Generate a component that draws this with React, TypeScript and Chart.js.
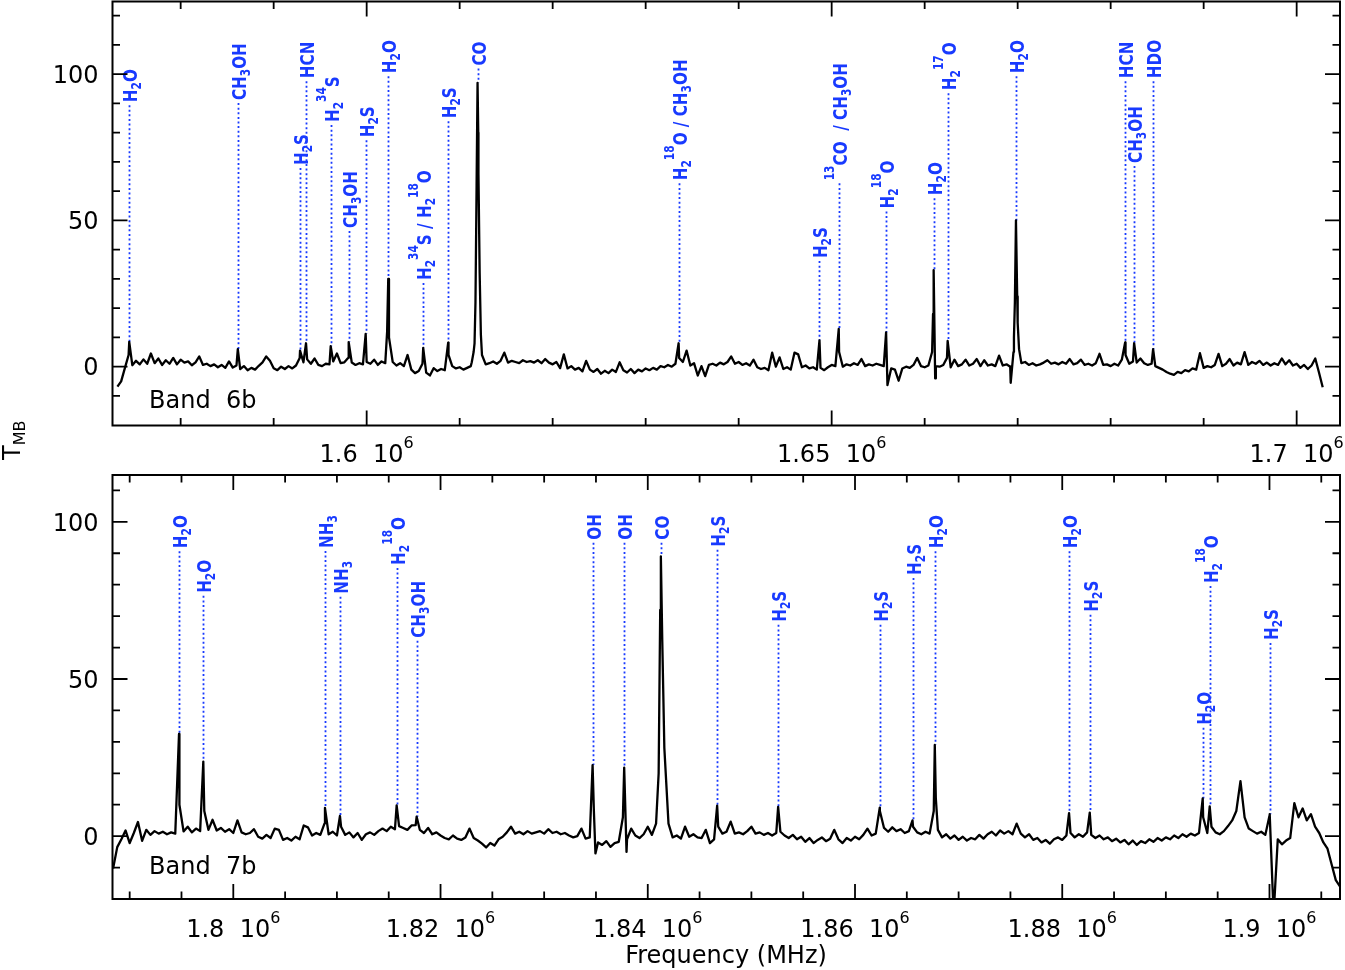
import React, { useEffect, useRef } from "react";
import { Chart, registerables } from "chart.js";
Chart.register(...registerables);

// ---------------- Band 6b (top panel) ----------------
const band6Start = 1573200; // MHz, first channel
const band6Step = 400; // MHz per channel
const band6T = [
  -6.8, -5, -0.5, 4, 0.5, 2, 0.8, 2.5, 1, 4.5,
  1.2, 2.8, 0.6, 2.2, 1.0, 3.0, 0.8, 2.4, 1.4, 1.8,
  0.5, 1.5, 3.5, 0.6, 1.0, 0.2, 0.8, -0.2, 0.6, -0.4,
  1.8, -0.3, 0.4, -0.8, 0.2, -1.2, -0.4, -1.0, 0.3, 1.5,
  3.5, 2.0, -0.5, -1.2, 0.0, -0.8, 0.2, -0.6, 0.4, 3,
  1.5, 2.5, 1.0, 2.8, 0.6, 0.2, 1.0, 0.8, 1.8, 4.5,
  1.2, 1.5, 3, 1.4, 0.6, 1.2, 0.8, 1.6, 1.0, 2.4,
  0.6, 1.8, 1.2, 10, 1.6, 0.4, 1.2, 0.2, 4.0, -1.0,
  -2.2, -1.5, 1, -2.0, -3.0, -0.5, -1.5, -0.8, -1.2, 4,
  0.2, -0.6, -0.2, -1.0, -0.4, 0.2, 8, 80, 4, 0.8,
  1.2, 1.8, 1.0, 2.0, 4.8, 1.4, 2.0, 1.6, 1.2, 2.2,
  1.6, 1.9, 1.4, 2.2, 1.2, 2.6, 1.4, 0.8, 1.6, -0.5,
  4.2, -0.6, 0.2, -1.0, -0.4, -1.6, 2.0, -1.0, -1.8, -0.8,
  -2.4, -1.4, -2.2, -1.0, -1.8, 1.5, -1.2, -2.0, -0.8, -2.2,
  -1.0, -1.6, -0.6, -1.2, -0.4, -1.0, 0.2, -0.2, 0.6, 0.0,
  1.0, 3, 1.6, 5.5, 0.4, 1.2, -3.0, 0.2, -3.2, 0.6,
  1.0, 0.4, 1.4, 0.8, 1.6, 3.5, 1.0, 1.6, 0.6, 1.2,
  0.4, 2.4, -0.2, -0.8, -0.4, -1.2, 4.8, 0.0, 3.2, -0.8,
  -0.2, -1.0, 4.8, 4.2, -0.2, 0.4, -0.6, -0.2, -1.0, -0.4,
  -1.2, -0.2, 0.6, 0.2, 5, 0.0, 0.8, 0.4, 1.2, 0.6,
  2.6, 0.2, 0.8, 0.4, 1.0, 0.6, 0.2, -6.3, -0.6, -1.0,
  -4.8, -0.6, 0.0, -0.4, 0.6, 3.0, 0.2, -0.2, 0.4, 5,
  0.2, 0.0, 0.6, 3, -0.2, 2.4, 0.2, 0.8, 2.4, 0.4,
  1.0, 2.6, 0.2, 2.2, 0.4, 0.8, 0.2, 3.8, 0.4, 0.8,
  0.0, 10, 15, 1.2, 1.6, 0.6, 1.2, 0.4, 0.8, 1.4,
  2.2, 1.0, 1.4, 0.8, 1.6, 1.0, 2.6, 0.8, 1.2, 2.4,
  0.6, 1.0, 0.4, 1.2, 4.4, 0.6, 0.8, 0.2, 1.0, 0.4,
  2.4, 4, 1.0, 1.8, 1.4, 2.8, 1.2, 0.6, 1.0, 0.2,
  -0.4, -1.0, -1.8, -2.4, -2.8, -1.8, -2.2, -1.2, -1.6, -0.6,
  -1.0, 4.6, -0.4, 0.2, -0.2, 0.6, 4.4, 0.2, 1.0, 2.6,
  0.4, 1.4, 0.8, 5.0, 0.6, 1.6, 1.0, 2.0, 0.6, 1.4,
  0.4, 1.2, 0.6, 2.8, 0.8, 2.2, 0.4, 1.0, -0.4, 0.6,
  -0.8, 0.4, 2.8, -2.0, -7.0,
];
// identified lines: rest frequency (MHz), peak T_MB, label base level, label
const band6LineFreq = [
  1574470, 1586144, 1592836, 1593480, 1596133, 1598067, 1599893, 1602320, 1606079, 1608765,
  1611923, 1633544, 1648689, 1650762, 1655853, 1660966, 1662470, 1669817, 1681557, 1682523, 1684565,
];
const band6LinePeak = [8.5, 6, 5.5, 8, 7, 8.4, 11.2, 30, 6.4, 8.2, 97, 8, 9, 12.9, 11.7, 33, 8.8, 50, 8.3, 8, 6];
const band6LabelLevel = [90.4, 91.1, 68.9, 98.6, 83.6, 47.4, 78.4, 100.3, 29.6, 84.9, 102.9, 63.7, 37.1, 63.7, 54.1, 58.6, 94.5, 100.3, 98.6, 69.6, 98.6];
const band6LabelText = [
  "H_2O", "CH_3OH", "H_2S", "HCN", "H_2^{34}S", "CH_3OH", "H_2S", "H_2O", "H_2^{34}S / H_2^{18}O", "H_2S",
  "CO", "H_2^{18}O / CH_3OH", "H_2S", "^{13}CO  / CH_3OH", "H_2^{18}O", "H_2O", "H_2^{17}O", "H_2O", "HCN", "CH_3OH", "HDO",
];
// extra channels on the wings of the strong lines
const band6ExtraFreq = [1602200, 1611300, 1611500, 1611700, 1611820, 1612020, 1612150, 1612280, 1660900, 1661050, 1661130, 1669250, 1669550, 1669700, 1669950, 1670150];
const band6ExtraT = [12, 1.5, 5, 22, 62, 66, 32, 11, 18, 14, -4, -5.5, 5, 22, 24, 6];

const band6XRange = [1572670, 1704660];
const band6YRange = [-20.1, 124.8];
const band6MajorX = [1600000, 1650000, 1700000];
const band6MinorX = [1580000, 1590000, 1610000, 1620000, 1630000, 1640000, 1660000, 1670000, 1680000, 1690000];
const band6XTickText = ["1.6  10^6", "1.65  10^6", "1.7  10^6"];

// ---------------- Band 7b (bottom panel) ----------------
const band7Start = 1788400;
const band7Step = 400;
const band7T = [
  -10.3, -3.5, -1.0, 1.8, -2.2, 1.0, 4.5, -1.5, 2.0, 0.4,
  1.6, 0.8, 1.4, 0.6, 1.2, 0.8, 10, 1.5, 3.0, 1.2,
  2.4, 1.6, 8, 2.0, 5.2, 1.8, 2.6, 1.4, 2.2, 1.0,
  5.0, 1.2, 0.6, 1.0, 2.2, -0.2, -0.8, 0.4, -0.6, 2.4,
  2.0, -1.2, -0.6, -1.4, -0.2, -1.0, 3.4, 2.8, 0.2, 1.0,
  0.4, 4, 0.6, 1.4, 0.2, 3, 0.4, 1.2, -0.4, 1.0,
  -1.2, 0.6, 1.2, 0.4, 1.6, 2.4, 1.6, 3.0, 2.2, 3.2,
  2.6, 2.0, 3.4, 3.5, 2.0, 1.0, 2.6, 0.6, 1.2, 0.2,
  -0.6, -1.0, 0.2, -0.8, -1.2, -0.4, 2.4, -0.6, -1.4, -2.4,
  -3.6, -2.2, -3.0, -1.0, -0.2, 1.2, 3.0, 0.8, 1.4, 0.6,
  1.6, 0.8, 1.2, 1.6, 0.8, 2.2, 1.0, 1.4, 0.6, 1.0,
  0.2, -0.4, 0.0, 2.4, -0.8, -0.4, 8, -2.0, -2.8, -1.6,
  -3.4, -2.2, -1.8, 6, -1.0, 2.4, 0.2, -0.6, 0.6, 3.0,
  0.4, 4, 72, 28, 4, -0.4, 0.2, -0.8, 3.0, -0.2,
  0.6, -0.4, -0.6, 2.0, -2.2, -1.0, 3, 0.8, 1.4, 4.6,
  0.8, 1.2, 0.6, 1.6, 3.0, 0.8, 1.2, 0.4, 1.0, 0.2,
  1.0, 1.4, 0.2, -0.6, 0.4, -1.0, -0.2, -1.8, -0.6, -2.2,
  -1.2, -0.4, -1.6, -0.8, 2.0, -1.0, -2.2, -0.6, -1.4, -0.2,
  -1.0, 0.4, 2.4, 0.2, 0.8, 8, 2.6, 1.4, 2.8, 1.6,
  2.2, 1.0, 1.6, 3, 1.2, 0.6, 1.4, 0.8, 8, 2.0,
  -0.4, 0.6, -0.8, 0.2, -1.2, -0.2, -1.4, -0.6, -1.0, 0.4,
  -0.8, 0.6, 1.4, 0.2, 1.8, 0.8, 1.6, 0.6, 4.0, 0.8,
  -0.4, 0.6, -1.2, -0.6, -2.0, -1.2, -2.4, -1.0, -0.4, -1.2,
  0.2, 1.0, -0.4, 0.6, -0.2, 1.2, 0.4, -0.6, 0.2, -1.0,
  -0.4, -1.6, -0.8, -2.0, -1.2, -2.6, -1.4, -2.8, -1.6, -2.2,
  -1.0, -1.8, -0.6, -1.4, -0.4, -1.0, 0.2, -0.6, 0.6, -0.2,
  0.8, 0.2, 1.0, 6, 1.0, 3, 1.2, 0.6, 1.6, 3.2,
  5.0, 8, 17.5, 6.0, 2.4, 1.6, 0.8, 1.4, 0.4, 6.5,
  -25, -1.0, -2.6, -1.4, -0.6, 10.5, 6.0, 8.8, 5.0, 7.0,
  3.0, 1.0, -2.0, -4.0, -9.0, -14.0, -16.0,
];
const band7LineFreq = [
  1794761, 1797106, 1808847, 1810294, 1815765, 1817694, 1834675, 1837724, 1841264, 1846696,
  1852582, 1862394, 1865549, 1867700, 1880657, 1882655, 1893557, 1894232, 1900021,
];
const band7LinePeak = [32.5, 23.7, 9, 6.4, 9.8, 6.2, 22.6, 21.8, 89, 9.7, 9.3, 9.1, 5, 29, 7.3, 7.5, 12, 9.5, 7];
const band7LabelLevel = [91.6, 77.4, 91.7, 77.1, 86.3, 63.1, 94.3, 94.3, 94.3, 92.1, 68.2, 68.2, 83.1, 91.6, 91.6, 71.4, 35.4, 80.5, 62.4];
const band7LabelText = [
  "H_2O", "H_2O", "NH_3", "NH_3", "H_2^{18}O", "CH_3OH", "OH", "OH", "CO", "H_2S",
  "H_2S", "H_2S", "H_2S", "H_2O", "H_2O", "H_2S", "H_2O", "H_2^{18}O", "H_2S",
];
const band7ExtraFreq = [1834950, 1837950, 1841050, 1841400, 1867800];
const band7ExtraT = [-5.5, -5, 20, 62, 12];

const band7XRange = [1788342, 1906806];
const band7YRange = [-20.0, 114.9];
const band7MajorX = [1800000, 1820000, 1840000, 1860000, 1880000, 1900000];
const band7MinorX = [
  1790000, 1795000, 1805000, 1810000, 1815000, 1825000, 1830000, 1835000, 1845000, 1850000,
  1855000, 1865000, 1870000, 1875000, 1885000, 1890000, 1895000, 1905000,
];
const band7XTickText = ["1.8  10^6", "1.82  10^6", "1.84  10^6", "1.86  10^6", "1.88  10^6", "1.9  10^6"];

const yMajor = [0, 50, 100];
const yMinor = [-10, 10, 20, 30, 40, 60, 70, 80, 90, 110, 120];
const yTickText = ["0", "50", "100"];

// ---------------- drawing helpers ----------------
const BLUE = "rgb(24,58,255)";
const FONT = "'DejaVu Sans', 'Liberation Sans', sans-serif";

type Seg = { t: string; m: number };
function parseRich(s: string): Seg[] {
  const segs: Seg[] = [];
  let buf = "";
  let i = 0;
  const flush = () => {
    if (buf) { segs.push({ t: buf, m: 0 }); buf = ""; }
  };
  while (i < s.length) {
    const c = s[i];
    if (c === "_" || c === "^") {
      flush();
      let t = "";
      if (s[i + 1] === "{") {
        const j = s.indexOf("}", i + 2);
        t = s.slice(i + 2, j);
        i = j + 1;
      } else {
        t = s[i + 1];
        i += 2;
      }
      segs.push({ t, m: c === "_" ? 1 : 2 });
    } else {
      buf += c;
      i++;
    }
  }
  flush();
  return segs;
}

function drawLineLabel(ctx: CanvasRenderingContext2D, text: string, x: number, yBottom: number) {
  const segs = parseRich(text);
  ctx.save();
  ctx.translate(x, yBottom);
  ctx.rotate(-Math.PI / 2);
  ctx.scale(0.76, 1);
  ctx.fillStyle = BLUE;
  ctx.textAlign = "left";
  ctx.textBaseline = "alphabetic";
  const b = 7.3;
  let u = 0;
  for (const s of segs) {
    ctx.font = s.m === 0 ? `bold 20px ${FONT}` : `bold 14px ${FONT}`;
    const v = s.m === 0 ? b : s.m === 1 ? b + 4 : b - 12.5;
    ctx.fillText(s.t, u, v);
    u += ctx.measureText(s.t).width;
  }
  ctx.restore();
}

function drawAxisText(ctx: CanvasRenderingContext2D, text: string, x: number, base: number, align: string) {
  const segs = parseRich(text);
  const fontFor = (m: number) => (m === 0 ? `24px ${FONT}` : `16px ${FONT}`);
  let total = 0;
  for (const s of segs) {
    ctx.font = fontFor(s.m);
    total += ctx.measureText(s.t).width;
  }
  let u = align === "center" ? x - total / 2 : align === "right" ? x - total : x;
  ctx.textAlign = "left";
  ctx.textBaseline = "alphabetic";
  ctx.fillStyle = "#000";
  for (const s of segs) {
    ctx.font = fontFor(s.m);
    const v = s.m === 2 ? base - 13.5 : s.m === 1 ? base + 5 : base;
    ctx.fillText(s.t, u, v);
    u += ctx.measureText(s.t).width;
  }
}

function buildSpectrum(start: number, step: number, vals: number[], lf: number[], lp: number[], ef: number[], et: number[]) {
  const pts = vals.map((v, i) => ({ x: start + i * step, y: v }));
  lf.forEach((f, i) => pts.push({ x: f, y: lp[i] }));
  ef.forEach((f, i) => pts.push({ x: f, y: et[i] }));
  pts.sort((a, b) => a.x - b.x);
  return pts;
}

type PanelCfg = {
  id: string;
  top: number;
  height: number;
  pad: { left: number; right: number; top: number; bottom: number };
  xRange: number[];
  yRange: number[];
  points: { x: number; y: number }[];
  lineFreq: number[];
  linePeak: number[];
  labelLevel: number[];
  labelText: string[];
  majorX: number[];
  minorX: number[];
  xTickText: string[];
  xTickBase: number;
  band: string;
  bandBase: number;
  showYTitle: boolean;
  showXTitle: boolean;
};

const panels: PanelCfg[] = [
  {
    id: "b6",
    top: 0,
    height: 470,
    pad: { left: 112.5, right: 5, top: 1.5, bottom: 44.5 },
    xRange: band6XRange,
    yRange: band6YRange,
    points: buildSpectrum(band6Start, band6Step, band6T, band6LineFreq, band6LinePeak, band6ExtraFreq, band6ExtraT),
    lineFreq: band6LineFreq,
    linePeak: band6LinePeak,
    labelLevel: band6LabelLevel,
    labelText: band6LabelText,
    majorX: band6MajorX,
    minorX: band6MinorX,
    xTickText: band6XTickText,
    xTickBase: 461.7,
    band: "Band  6b",
    bandBase: 408.3,
    showYTitle: true,
    showXTitle: false,
  },
  {
    id: "b7",
    top: 470,
    height: 500,
    pad: { left: 112.5, right: 5, top: 5, bottom: 71 },
    xRange: band7XRange,
    yRange: band7YRange,
    points: buildSpectrum(band7Start, band7Step, band7T, band7LineFreq, band7LinePeak, band7ExtraFreq, band7ExtraT),
    lineFreq: band7LineFreq,
    linePeak: band7LinePeak,
    labelLevel: band7LabelLevel,
    labelText: band7LabelText,
    majorX: band7MajorX,
    minorX: band7MinorX,
    xTickText: band7XTickText,
    xTickBase: 466.7,
    band: "Band  7b",
    bandBase: 404.3,
    showYTitle: false,
    showXTitle: true,
  },
];

function decorPlugin(p: PanelCfg) {
  return {
    id: "decor_" + p.id,
    beforeDatasetsDraw(chart: any) {
      const { ctx } = chart;
      const xs = chart.scales.x;
      const ys = chart.scales.y;
      ctx.save();
      ctx.strokeStyle = BLUE;
      ctx.lineWidth = 1.8;
      ctx.setLineDash([2, 2.6]);
      p.lineFreq.forEach((f, i) => {
        const px = Math.round(xs.getPixelForValue(f)) + 0.5;
        const y0 = ys.getPixelForValue(p.labelLevel[i]) + 3;
        const y1 = ys.getPixelForValue(p.linePeak[i]);
        if (y1 > y0) {
          ctx.beginPath();
          ctx.moveTo(px, y0);
          ctx.lineTo(px, y1);
          ctx.stroke();
        }
      });
      ctx.restore();
    },
    afterDatasetsDraw(chart: any) {
      const { ctx, chartArea } = chart;
      const xs = chart.scales.x;
      const ys = chart.scales.y;
      const { left, right, top, bottom } = chartArea;
      ctx.save();
      // line labels
      p.lineFreq.forEach((f, i) => {
        const px = Math.round(xs.getPixelForValue(f)) + 0.5;
        const py = ys.getPixelForValue(p.labelLevel[i]);
        drawLineLabel(ctx, p.labelText[i], px, py);
      });
      // frame
      ctx.strokeStyle = "#000";
      ctx.lineWidth = 2;
      ctx.setLineDash([]);
      ctx.strokeRect(left, top, right - left, bottom - top);
      // ticks
      ctx.lineWidth = 1.8;
      ctx.beginPath();
      const xt = (v: number, len: number) => {
        const px = xs.getPixelForValue(v);
        ctx.moveTo(px, bottom);
        ctx.lineTo(px, bottom - len);
        ctx.moveTo(px, top);
        ctx.lineTo(px, top + len);
      };
      const yt = (v: number, len: number) => {
        const py = ys.getPixelForValue(v);
        ctx.moveTo(left, py);
        ctx.lineTo(left + len, py);
        ctx.moveTo(right, py);
        ctx.lineTo(right - len, py);
      };
      p.majorX.forEach((v) => xt(v, 15));
      p.minorX.forEach((v) => xt(v, 7.5));
      yMajor.forEach((v) => yt(v, 15));
      yMinor.forEach((v) => yt(v, 7.5));
      ctx.stroke();
      // tick labels
      p.majorX.forEach((v, i) => {
        drawAxisText(ctx, p.xTickText[i], xs.getPixelForValue(v), p.xTickBase, "center");
      });
      yMajor.forEach((v, i) => {
        drawAxisText(ctx, yTickText[i], 98.5, ys.getPixelForValue(v) + 8.7, "right");
      });
      // band name
      drawAxisText(ctx, p.band, 149, p.bandBase, "left");
      if (p.showXTitle) {
        drawAxisText(ctx, "Frequency (MHz)", 726, 493.3, "center");
      }
      if (p.showYTitle) {
        ctx.save();
        ctx.translate(0, 460);
        ctx.rotate(-Math.PI / 2);
        ctx.fillStyle = "#000";
        ctx.textAlign = "left";
        ctx.textBaseline = "alphabetic";
        ctx.font = `24px ${FONT}`;
        ctx.fillText("T", 0, 20);
        const w = ctx.measureText("T").width;
        ctx.font = `16px ${FONT}`;
        ctx.fillText("MB", w, 25);
        ctx.restore();
      }
      ctx.restore();
    },
  };
}

function SpectrumPanel({ cfg }: { cfg: PanelCfg }) {
  const ref = useRef<HTMLCanvasElement>(null);
  useEffect(() => {
    const canvas = ref.current;
    if (!canvas) return;
    const chart = new Chart(canvas, {
      type: "line",
      data: {
        datasets: [
          {
            data: cfg.points,
            borderColor: "#000",
            borderWidth: 2.3,
            pointRadius: 0,
            tension: 0,
            fill: false,
            borderJoinStyle: "round",
          } as any,
        ],
      },
      options: {
        animation: false,
        responsive: false,
        maintainAspectRatio: false,
        devicePixelRatio: 1,
        events: [],
        layout: { padding: cfg.pad },
        scales: {
          x: { type: "linear", display: false, min: cfg.xRange[0], max: cfg.xRange[1] },
          y: { type: "linear", display: false, min: cfg.yRange[0], max: cfg.yRange[1] },
        },
        plugins: { legend: { display: false }, tooltip: { enabled: false } },
      },
      plugins: [decorPlugin(cfg)],
    } as any);
    return () => chart.destroy();
  }, [cfg]);
  return (
    <canvas
      ref={ref}
      width={1345}
      height={cfg.height}
      style={{ position: "absolute", left: 0, top: cfg.top, width: 1345, height: cfg.height }}
    />
  );
}

export default function App() {
  return (
    <div style={{ position: "absolute", left: 0, top: 0, width: 1345, height: 970, background: "#fff" }}>
      {panels.map((p) => (
        <SpectrumPanel key={p.id} cfg={p} />
      ))}
    </div>
  );
}
